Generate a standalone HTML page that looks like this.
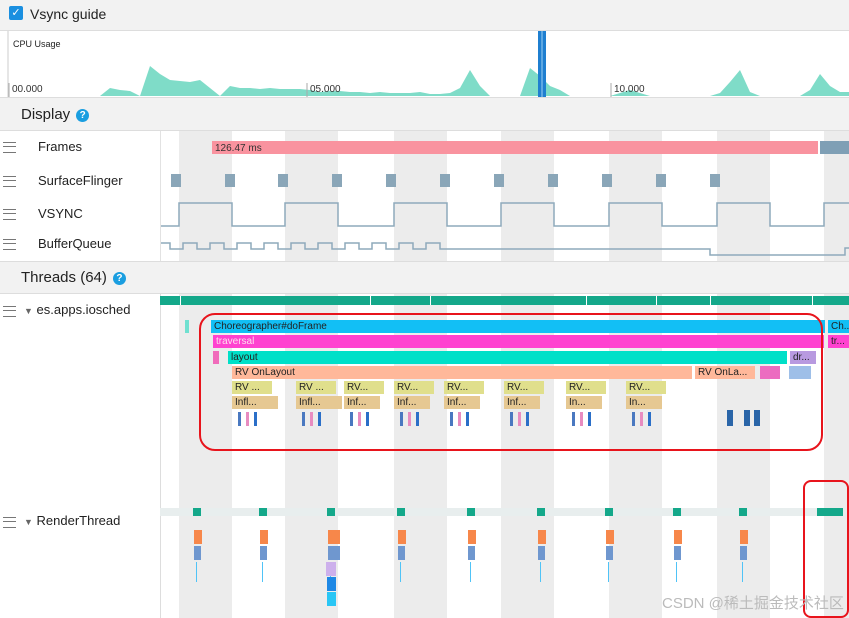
<!DOCTYPE html>
<html><head><meta charset="utf-8"><style>
body{margin:0;width:849px;height:618px;overflow:hidden;background:#fff;font-family:"Liberation Sans",sans-serif;position:relative}
.a{position:absolute}
.hdr{background:#f2f2f2;border-bottom:1px solid #ddd}
.lbl{position:absolute;left:38px;font-size:13px;color:#222}
.ham{position:absolute;left:3px;width:13px;height:9px;border-top:1px solid #777;border-bottom:1px solid #777}
.ham:after{content:"";position:absolute;left:0;right:0;top:3px;border-top:1px solid #777}
.blk{position:absolute;font-size:10px;line-height:13px;overflow:hidden;white-space:nowrap;padding-left:3px;box-sizing:border-box;color:#222}
.q{display:inline-block;width:13px;height:13px;border-radius:50%;background:#1a9ee0;color:#fff;font-size:10px;text-align:center;line-height:13px;font-weight:bold;vertical-align:middle;margin-left:6px}
</style></head><body>
<div class="a hdr" style="left:0;top:0;width:849px;height:30px">
 <div class="a" style="left:9px;top:6px;width:14px;height:14px;background:#1a8fe0;border-radius:2px;color:#fff;font-size:11px;text-align:center;line-height:14px">✓</div>
 <div class="a" style="left:30px;top:6px;font-size:14px;color:#222">Vsync guide</div>
</div>
<svg class="a" style="left:0;top:31px" width="849" height="66" id="cpu"></svg>
<div class="a hdr" style="left:0;top:97px;width:849px;height:32px;border-top:1px solid #ddd">
 <div class="a" style="left:21px;top:8px;font-size:15px;color:#222">Display<span class="q">?</span></div>
</div>
<svg class="a" style="left:0;top:0" width="849" height="618" id="tl"></svg>
<div class="a" style="left:0;top:131px;width:160px;height:130px;border-right:1px solid #e2e2e2"></div>
<div class="ham" style="top:142px"></div><div class="lbl" style="top:139px">Frames</div>
<div class="ham" style="top:176px"></div><div class="lbl" style="top:173px">SurfaceFlinger</div>
<div class="ham" style="top:209px"></div><div class="lbl" style="top:206px">VSYNC</div>
<div class="ham" style="top:239px"></div><div class="lbl" style="top:236px">BufferQueue</div>
<div class="a hdr" style="left:0;top:261px;width:849px;height:31px;border-top:1px solid #ddd">
 <div class="a" style="left:21px;top:7px;font-size:15px;color:#222">Threads (64)<span class="q">?</span></div>
</div>
<div class="ham" style="top:306px"></div><div class="lbl" style="left:24px;top:302px"><span style="font-size:9px;color:#666">▼</span> es.apps.iosched</div>
<div class="ham" style="top:517px"></div><div class="lbl" style="left:24px;top:513px"><span style="font-size:9px;color:#666">▼</span> RenderThread</div>
<div id="blocks"></div>
<div class="a" style="left:199px;top:313px;width:620px;height:134px;border:2px solid #e8141c;border-radius:16px"></div>
<div class="a" style="left:803px;top:480px;width:42px;height:134px;border:2px solid #e8141c;border-radius:8px"></div>
<div class="a" style="left:662px;top:592px;font-size:15px;color:#bbb;font-family:'Liberation Sans','Noto Sans CJK SC',sans-serif">CSDN @稀土掘金技术社区</div>
<script>
const cpuX=[90,100,110,120,130,140,150,160,170,180,190,200,210,220,230,240,250,260,270,280,290,300,310,320,330,340,350,360,370,380,390,400,410,420,430,440,450,460,470,480,490,500,510,520,530,540,550,560,570,580,590,600,610,620,630,640,650,660,670,680,690,700,710,720,730,740,750,760,770,780,790,800,810,820,830,840];
const cpuV=[0,0,8,6,5,0,30,22,16,15,14,16,8,0,10,8,8,7,8,7,7,7,6,4,5,5,4,4,3,4,3,3,3,4,2,2,3,8,26,10,0,0,0,0,28,20,10,6,0,0,0,0,0,3,6,3,0,0,0,0,0,0,0,3,14,26,4,0,0,0,0,0,6,22,10,4];
const cpuTicks=["00.000","05.000","10.000"];const cpuTickX=[12,310,614];
const NS='http://www.w3.org/2000/svg';
function mk(p,t,a){const e=document.createElementNS(NS,t);for(const k in a)e.setAttribute(k,a[k]);p.appendChild(e);return e}
const cpu=document.getElementById('cpu');
mk(cpu,'rect',{x:0,y:0,width:849,height:66,fill:'#fff'});
mk(cpu,'line',{x1:8,y1:0,x2:8,y2:66,stroke:'#ccc'});
const t0=mk(cpu,'text',{x:13,y:16,'font-size':'9','fill':'#222'});t0.textContent='CPU Usage';
const cy=v=>65-v;
let d='M'+cpuX[0]+' 65';cpuX.forEach((x,i)=>d+=' L'+x+' '+cy(cpuV[i]));d+=' L849 '+cy(4)+' L849 65Z';
const ar=mk(cpu,'path',{d:d,fill:'#7fdcc8'});

cpuTicks.forEach((s,i)=>{mk(cpu,'line',{x1:cpuTickX[i]-3,y1:52,x2:cpuTickX[i]-3,y2:66,stroke:'#aaa'});const t=mk(cpu,'text',{x:cpuTickX[i],y:61,'font-size':'10',fill:'#333'});t.textContent=s;});
mk(cpu,'rect',{x:538,y:0,width:8,height:66,fill:'#1f7fd0'});mk(cpu,'line',{x1:542,y1:0,x2:542,y2:66,stroke:'#9cd0f5'});
// timeline
const tl=document.getElementById('tl');
const bandStart=[179,285,394,501,609,717,824];const bandW=53;
[[131,130],[294,324]].forEach(([y,h])=>bandStart.forEach(b=>{const r=mk(tl,'rect',{x:b,y:y,width:bandW,height:h,fill:'#ececec'});}));
mk(tl,'line',{x1:160.5,y1:294,x2:160.5,y2:618,stroke:'#ddd'});
let r=mk(tl,'rect',{x:212,y:141,width:606,height:13,fill:'#f9939f'});
let tt=mk(tl,'text',{x:215,y:151,'font-size':'10',fill:'#333'});tt.textContent='126.47 ms';
mk(tl,'rect',{x:820,y:141,width:29,height:13,fill:'#7f9fb5'});
const sfX=[171,225,278,332,386,440,494,548,602,656,710];
sfX.forEach(x=>{const q=mk(tl,'rect',{x:x,y:174,width:10,height:13,fill:'#8aa6b8'});});
let v='M160 226';bandStart.forEach(b=>{v+=` L${b} 226 L${b} 203 L${b+bandW} 203 L${b+bandW} 226`;});
mk(tl,'path',{d:v.replace(/ L877 226/,''),fill:'none',stroke:'#8eaabb','stroke-width':1.5});
let bq='M160 243 L170 243 L170 249';for(let k=0;k<10;k++){const x=170+k*27;bq+=` L${x+27-14} 249 L${x+27-14} 243 L${x+27} 243 L${x+27} 249`;}
bq+=' L710 249 L710 255 L845 255 L845 248 L849 248';
mk(tl,'path',{d:bq,fill:'none',stroke:'#8eaabb','stroke-width':1.5});
mk(tl,'rect',{x:160,y:296,width:689,height:9,fill:'#14a88a'});
[[180,'#fff'],[370,'#fff'],[430,'#fff'],[586,'#fff'],[656,'#fff'],[710,'#fff'],[812,'#fff']].forEach(([x,c])=>mk(tl,'rect',{x:x,y:296,width:1,height:9,fill:c}));
mk(tl,'rect',{x:160,y:508,width:689,height:8,fill:'#e8eeee'});
const rtX=[196,262,330,400,470,540,608,676,742];
rtX.forEach((x,i)=>{
 mk(tl,'rect',{x:x-3,y:508,width:8,height:8,fill:'#14a88a'});
 const o=mk(tl,'rect',{x:x-2,y:530,width:i==2?12:8,height:14,fill:'#f7874a'});
 mk(tl,'rect',{x:x-2,y:546,width:i==2?12:7,height:14,fill:'#6f97cf'});
 mk(tl,'rect',{x:x,y:562,width:1,height:20,fill:'#4fc3f7'});
});
mk(tl,'rect',{x:817,y:508,width:26,height:8,fill:'#14a88a'});
mk(tl,'rect',{x:326,y:562,width:10,height:14,fill:'#cdb0ec'});mk(tl,'rect',{x:327,y:577,width:9,height:14,fill:'#1e88e5'});mk(tl,'rect',{x:327,y:592,width:9,height:14,fill:'#29c6f5'});
// main thread blocks
const blocks=document.getElementById('blocks');
function b(x,y,w,c,txt,name){const e=document.createElement('div');e.className='blk';e.style.cssText=`left:${x}px;top:${y}px;width:${w}px;height:13px;background:${c}`;e.textContent=txt||'';


blocks.appendChild(e);}
b(211,320,614,'#12bff5','Choreographer#doFrame','choreographer-slice');b(828,320,21,'#12bff5','Ch...');
b(213,335,611,'#ff42d0','traversal','traversal-slice');b(828,335,21,'#ff42d0','tr...');
document.querySelectorAll('.blk')[2].style.color='#fde';
b(213,351,6,'#f06cbb');b(228,351,559,'#00e0c8','layout','layout-slice');b(790,351,26,'#b89ae0','dr...');
b(232,366,460,'#ffb89a','RV OnLayout','rv-onlayout-slice');b(695,366,60,'#ffb89a','RV OnLa...');b(760,366,20,'#ec6cc0');b(789,366,22,'#9ebfe8');
const rvX=[232,296,344,394,444,504,566,626];const rvL=['RV ...','RV ...','RV...','RV...','RV...','RV...','RV...','RV...'];const inL=['Infl...','Infl...','Inf...','Inf...','Inf...','Inf...','In...','In...'];
rvX.forEach((x,i)=>{b(x,381,40,'#e0df8c',rvL[i]);b(x,396,x<300?46:36,'#e6c892',inL[i]);
 [[6,'#4a78c0'],[14,'#e88cc0'],[22,'#2b6fc8']].forEach(([o,c])=>{const e=document.createElement('div');e.className='a';e.style.cssText=`left:${x+o}px;top:412px;width:3px;height:14px;background:${c}`;blocks.appendChild(e);});});
[[727,'#2a65a8'],[744,'#2a65a8'],[754,'#2a65a8']].forEach(([x,c])=>{const e=document.createElement('div');e.className='a';e.style.cssText=`left:${x}px;top:410px;width:6px;height:16px;background:${c}`;blocks.appendChild(e);});
b(185,320,4,'#6fe0d0');
</script>
</body></html>
